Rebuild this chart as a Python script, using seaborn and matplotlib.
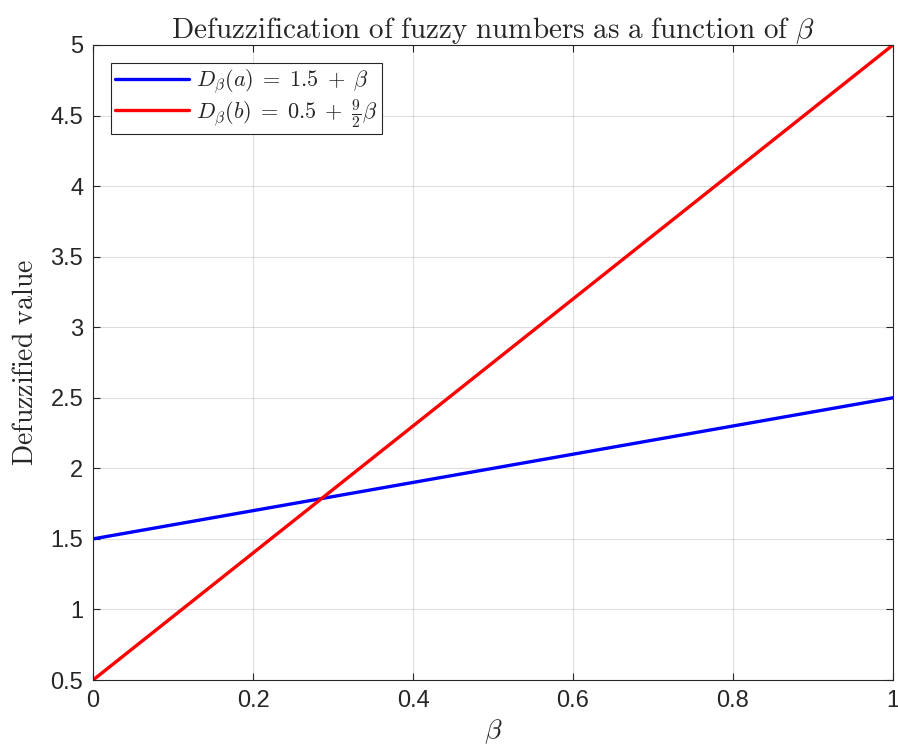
import matplotlib
matplotlib.use("Agg")
import matplotlib.pyplot as plt
import seaborn as sns
import pandas as pd

beta = [0.0, 1.0]
d_a = [1.5, 2.5]
d_b = [0.5, 5.0]
label_a = r"$D_\beta(a)\;=\;1.5\;+\;\beta$"
label_b = r"$D_\beta(b)\;=\;0.5\;+\;\frac{9}{2}\beta$"
xticks = [0, 0.2, 0.4, 0.6, 0.8, 1]
yticks = [0.5, 1, 1.5, 2, 2.5, 3, 3.5, 4, 4.5, 5]

sns.set_style("white")
plt.rcParams['font.family'] = ['Liberation Sans', 'DejaVu Sans']
plt.rcParams['mathtext.fontset'] = 'cm'

dark = (0.15, 0.15, 0.15)
fig = plt.figure(figsize=(8.98, 7.49), dpi=100)
ax = fig.add_axes([0.1036, 0.0921, 0.8908, 0.8479])

sns.lineplot(x=beta, y=d_a, ax=ax, color=(0, 0, 1), lw=2.4, label=label_a)
sns.lineplot(x=beta, y=d_b, ax=ax, color=(1, 0, 0), lw=2.4, label=label_b)

ax.set_xlim(0, 1)
ax.set_ylim(0.5, 5)
ax.set_xticks(xticks)
ax.set_xticklabels([f"{v:g}" for v in xticks])
ax.set_yticks(yticks)
ax.set_yticklabels([f"{v:g}" for v in yticks])
ax.grid(True, color=dark, alpha=0.15, lw=0.8)
for s in ax.spines.values():
    s.set_color(dark)
    s.set_linewidth(0.8)
ax.tick_params(direction='in', length=5, width=0.8, colors=dark,
               labelsize=17, top=True, right=True, bottom=True, left=True, pad=7)

ax.set_title(r"$\mathrm{Defuzzification\ of\ fuzzy\ numbers\ as\ a\ function\ of\ }\beta$",
             fontsize=21, pad=5)
ax.set_xlabel(r"$\beta$", fontsize=20, labelpad=4)
ax.set_ylabel(r"$\mathrm{Defuzzified\ value}$", fontsize=20, labelpad=8)

leg = ax.legend(loc='upper left', fontsize=16, frameon=True, fancybox=False,
                edgecolor=dark, framealpha=1, borderpad=0.2,
                handlelength=3.3, handletextpad=0.35, labelspacing=0.05,
                bbox_to_anchor=(0.0, 1.0), borderaxespad=0.8)
leg.get_frame().set_linewidth(0.8)

fig.savefig("out.png", dpi=100)
